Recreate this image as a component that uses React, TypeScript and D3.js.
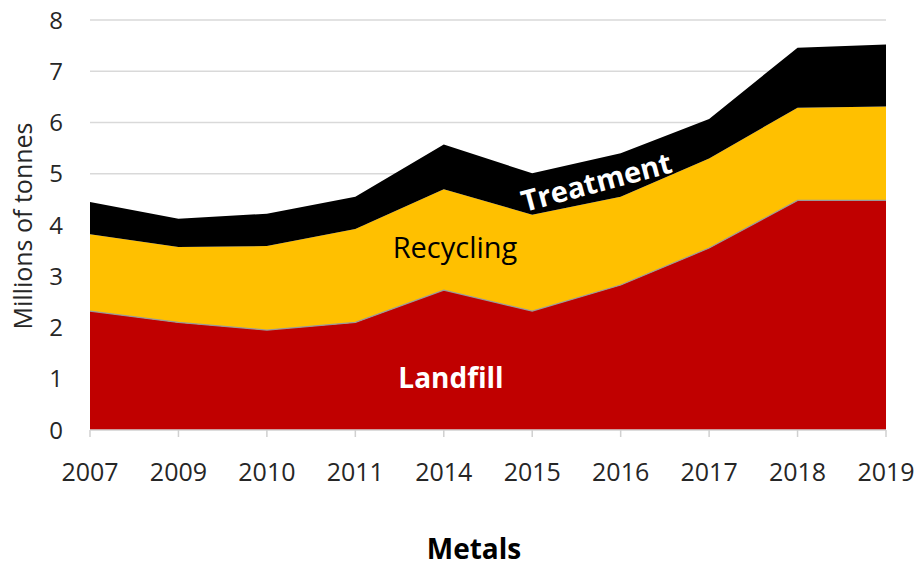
import React from "react"
import * as d3 from "d3"

const years = ["2007", "2009", "2010", "2011", "2014", "2015", "2016", "2017", "2018", "2019"]
const landfill = [2.32, 2.1, 1.95, 2.1, 2.73, 2.32, 2.83, 3.55, 4.48, 4.48]
const recycling = [1.5, 1.47, 1.64, 1.82, 1.97, 1.88, 1.72, 1.75, 1.81, 1.83]
const treatment = [0.63, 0.55, 0.63, 0.63, 0.87, 0.81, 0.85, 0.77, 1.17, 1.21]
const yTicks = [0, 1, 2, 3, 4, 5, 6, 7, 8]

const seriesKeys = ["landfill", "recycling", "treatment"] as const
const colors: Record<string, string> = {
  landfill: "#C00000",
  recycling: "#FFC000",
  treatment: "#000000",
}

const W = 919
const H = 568
const FONT = "'Open Sans', 'Liberation Sans', sans-serif"

export default function App() {
  const x = d3.scalePoint<string>().domain(years).range([90, 886])
  const y = d3.scaleLinear().domain([0, 8]).range([430, 20])

  const rows = years.map((yr, i) => ({
    year: yr,
    landfill: landfill[i],
    recycling: recycling[i],
    treatment: treatment[i],
  }))
  const stacked = d3.stack<any>().keys(seriesKeys as any)(rows)

  const area = d3
    .area<any>()
    .x((d) => x(d.data.year)!)
    .y0((d) => y(d[0]))
    .y1((d) => y(d[1]))

  const topLine = d3
    .line<any>()
    .x((d) => x(d.data.year)!)
    .y((d) => y(d[1]))

  return (
    <svg
      width={W}
      height={H}
      style={{ position: "absolute", left: 0, top: 0, background: "#fff" }}
      fontFamily={FONT}
    >
      {/* grid */}
      {yTicks.slice(1).map((t) => (
        <line key={t} x1={90} x2={886} y1={y(t)} y2={y(t)} stroke="#d9d9d9" strokeWidth={1.5} />
      ))}

      {/* areas */}
      {stacked.map((s) => (
        <path key={s.key} d={area(s)!} fill={colors[s.key]} />
      ))}
      <path d={topLine(stacked[0])!} fill="none" stroke="#9a9a9a" strokeWidth={1.2} />

      {/* x axis */}
      <line x1={90} x2={886} y1={y(0)} y2={y(0)} stroke="#d0d0d0" strokeWidth={1.5} />
      {years.map((yr) => (
        <g key={yr} transform={`translate(${x(yr)},0)`}>
          <line y1={y(0)} y2={y(0) + 7} stroke="#d0d0d0" strokeWidth={1.5} />
          <text y={481} textAnchor="middle" fontSize={25} fill="#262626">
            {yr}
          </text>
        </g>
      ))}

      {/* y axis labels */}
      {yTicks.map((t) => (
        <text key={t} x={63} y={y(t) + 8.5} textAnchor="end" fontSize={24} fill="#262626">
          {t}
        </text>
      ))}

      <text
        transform={`translate(32,226) rotate(-90)`}
        textAnchor="middle"
        fontSize={25}
        fill="#262626"
      >
        Millions of tonnes
      </text>

      <text x={474} y={559} textAnchor="middle" fontSize={28} fontWeight="bold" fill="#000">
        Metals
      </text>

      {/* series labels */}
      <text x={451} y={388} textAnchor="middle" fontSize={28} fontWeight="bold" fill="#fff">
        Landfill
      </text>
      <text x={455} y={258} textAnchor="middle" fontSize={29} fill="#000">
        Recycling
      </text>
      <text
        transform={`translate(599,192) rotate(-15)`}
        textAnchor="middle"
        fontSize={29}
        fontWeight="bold"
        fill="#fff"
      >
        Treatment
      </text>
    </svg>
  )
}
